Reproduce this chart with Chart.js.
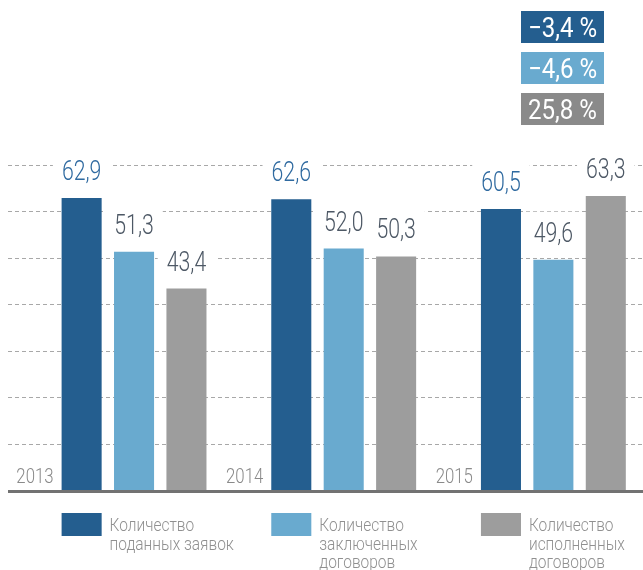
<!DOCTYPE html>
<html>
<head>
<meta charset="utf-8">
<script src="https://cdn.jsdelivr.net/npm/chart.js@4"></script>
<style>
  html, body { margin: 0; padding: 0; background: #fff; }
  #wrap { width: 643px; height: 570px; }
</style>
</head>
<body>
<div id="wrap"><canvas id="chart" width="643" height="570"></canvas></div>
<script>
// данные
const years = ['2013', '2014', '2015'];
const applications = [62.9, 62.6, 60.5];
const concluded = [51.3, 52.0, 49.6];
const executed = [43.4, 50.3, 63.3];
const changes = ['\u22123,4 %', '\u22124,6 %', '25,8 %'];
const yTicks = [10, 20, 30, 40, 50, 60, 70];
const seriesNames = [
    ['Количество', 'поданных заявок'],
    ['Количество', 'заключенных', 'договоров'],
    ['Количество', 'исполненных', 'договоров']
];

const colors = ['#245e8f', '#69aacf', '#9d9d9d'];
const boxColors = ['#245e8f', '#69aacf', '#8a8a8a'];
const labelColors = ['#2f6aa0', '#4d5865', '#4d5865'];
const FONT = "Roboto, 'Noto Sans', sans-serif";

const fmt = v => v.toFixed(1).replace('.', ',');

// узкий текст: сжимаем по горизонтали
function narrowText(ctx, txt, x, y, align, sx) {
    ctx.save();
    ctx.translate(x, y);
    ctx.scale(sx, 1);
    ctx.textAlign = align;
    ctx.fillText(txt, 0, 0);
    ctx.restore();
}

const VAL_FONT = '300 28px ' + FONT;
const VAL_SX = 0.76;

function eachLabel(chart, fn) {
    for (let d = 1; d <= 3; d++) {
        const meta = chart.getDatasetMeta(d);
        meta.data.forEach((bar, i) => {
            fn(d, i, bar, fmt(chart.data.datasets[d].data[i]));
        });
    }
}

const decor = {
    id: 'decor',
    beforeDatasetsDraw(chart) {
        const ctx = chart.ctx;
        const y = chart.scales.y;
        ctx.save();
        ctx.strokeStyle = '#a8a8a8';
        ctx.lineWidth = 1;
        ctx.setLineDash([4, 3]);
        yTicks.forEach(t => {
            const py = Math.round(y.getPixelForValue(t)) + 0.5;
            ctx.beginPath();
            ctx.moveTo(8, py);
            ctx.lineTo(643, py);
            ctx.stroke();
        });
        ctx.setLineDash([]);
        // просветы в сетке под подписями
        ctx.font = VAL_FONT;
        ctx.fillStyle = '#fff';
        eachLabel(chart, (d, i, bar, txt) => {
            const w = ctx.measureText(txt).width * VAL_SX;
            const base = bar.y - 18;
            ctx.fillRect(bar.x - w / 2 - 9, base - 30, w + 18, 36);
        });
        ctx.restore();
    },
    afterDatasetsDraw(chart) {
        const ctx = chart.ctx;
        const y = chart.scales.y;
        ctx.save();
        ctx.textBaseline = 'alphabetic';

        // подписи значений
        ctx.font = VAL_FONT;
        eachLabel(chart, (d, i, bar, txt) => {
            ctx.fillStyle = labelColors[d - 1];
            narrowText(ctx, txt, bar.x, bar.y - 18, 'center', VAL_SX);
        });

        // годы
        const py0 = y.getPixelForValue(0);
        ctx.font = '300 20px ' + FONT;
        ctx.fillStyle = '#8a8a8a';
        const first = chart.getDatasetMeta(1);
        first.data.forEach((bar, i) => {
            const left = bar.x - bar.width / 2;
            narrowText(ctx, years[i], left - 8, py0 - 7, 'right', 0.84);
        });

        // ось
        ctx.strokeStyle = '#727272';
        ctx.lineWidth = 3;
        ctx.beginPath();
        ctx.moveTo(8, py0 + 1.5);
        ctx.lineTo(643, py0 + 1.5);
        ctx.stroke();

        // легенда
        ctx.font = '300 18px ' + FONT;
        first.data.forEach((bar, i) => {
            const left = bar.x - bar.width / 2;
            ctx.fillStyle = colors[i];
            ctx.fillRect(left, 513, bar.width, 23);
            ctx.fillStyle = '#909090';
            seriesNames[i].forEach((line, k) => {
                narrowText(ctx, line, left + 48, 531 + k * 18.7, 'left', 0.86);
            });
        });

        // изменения
        ctx.font = '28px ' + FONT;
        changes.forEach((c, i) => {
            const top = 11 + i * 41;
            ctx.fillStyle = boxColors[i];
            ctx.fillRect(521, top, 83, 32);
            ctx.fillStyle = '#fff';
            narrowText(ctx, c, 562.5, top + 26, 'center', 0.86);
        });

        ctx.restore();
    }
};

const ctx = document.getElementById('chart').getContext('2d');
new Chart(ctx, {
    type: 'bar',
    data: {
        labels: years,
        datasets: [
            { label: '', data: years.map(() => null), backgroundColor: 'rgba(0,0,0,0)' },
            { label: seriesNames[0].join(' '), data: applications, backgroundColor: colors[0] },
            { label: seriesNames[1].join(' '), data: concluded, backgroundColor: colors[1] },
            { label: seriesNames[2].join(' '), data: executed, backgroundColor: colors[2] }
        ]
    },
    options: {
        responsive: false,
        animation: false,
        layout: { padding: { top: 165, bottom: 80, left: 3, right: 11 } },
        datasets: { bar: { categoryPercentage: 1, barPercentage: 0.764 } },
        scales: {
            x: { display: false },
            y: { display: false, min: 0, max: 70 }
        },
        plugins: {
            legend: { display: false },
            tooltip: { enabled: false }
        }
    },
    plugins: [decor]
});
</script>
</body>
</html>
